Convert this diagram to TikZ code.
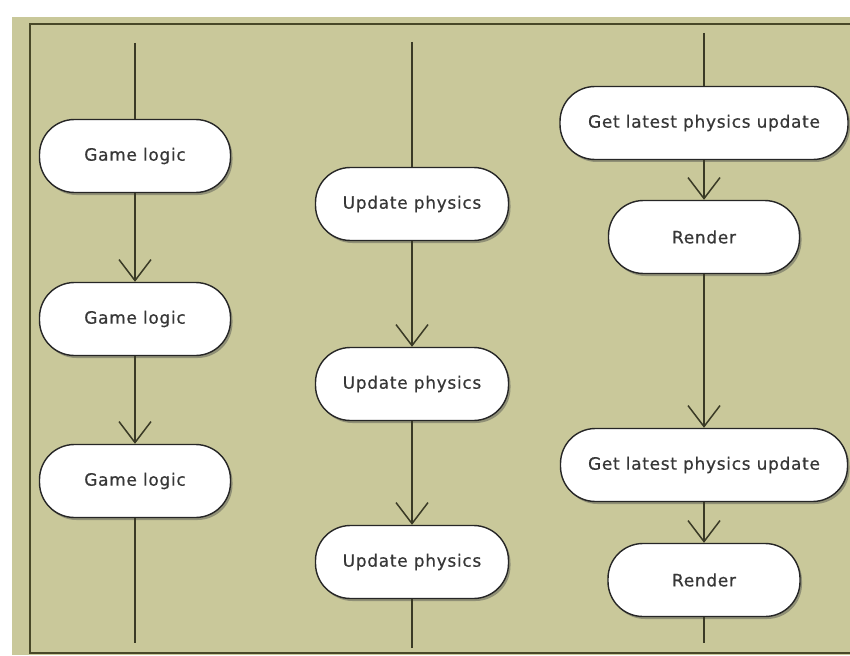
\documentclass[tikz,border=0pt]{standalone}
\usepackage{fontspec}
\setmainfont{DejaVu Sans}
\newfontfamily\lblfont[LetterSpace=4,FakeBold=0.6]{DejaVu Sans}
\usetikzlibrary{arrows.meta,shadows}
\definecolor{khaki}{RGB}{201,200,154}
\definecolor{bordercol}{RGB}{72,72,40}
\definecolor{linecol}{RGB}{58,58,38}
\definecolor{txt}{RGB}{55,55,55}
\tikzset{
  stage/.style={draw=black!85, line width=1.4pt, fill=white, rounded corners=35pt,
    minimum height=73pt, inner sep=0pt,
    drop shadow={shadow xshift=2pt, shadow yshift=-2.5pt, opacity=0.45, fill=black!70},
    font=\lblfont\fontsize{17}{20}\selectfont, text=txt},
  flow/.style={draw=linecol, line width=1.5pt},
  arr/.style={flow, -{Straight Barb[length=21pt,width=32pt,line width=1.5pt]}},
}
\begin{document}
\begin{tikzpicture}[x=1pt,y=-1pt]
\useasboundingbox (0,0) rectangle (850,655);
\fill[khaki] (12,17) rectangle (850,655);
\draw[bordercol, line width=2pt] (850,24) -- (30,24) -- (30,653) -- (850,653);

% column 1
\node[stage, minimum width=191pt] (g1) at (135,156) {Game logic};
\node[stage, minimum width=191pt] (g2) at (135,319) {Game logic};
\node[stage, minimum width=191pt] (g3) at (135,481) {Game logic};
\coordinate (g0) at (135,43);
\coordinate (g4) at (135,643);

% column 2
\node[stage, minimum width=193pt] (u1) at (412,204) {Update physics};
\node[stage, minimum width=193pt] (u2) at (412,384) {Update physics};
\node[stage, minimum width=193pt] (u3) at (412,562) {Update physics};
\coordinate (u0) at (412,42);
\coordinate (u4) at (412,648);

% column 3
\node[stage, minimum width=288pt] (l1) at (704,123) {Get latest physics update};
\node[stage, minimum width=191pt] (r1) at (704,237) {Render};
\node[stage, minimum width=287pt] (l2) at (704,465) {Get latest physics update};
\node[stage, minimum width=192pt] (r2) at (704,580) {Render};
\coordinate (l0) at (704,33);
\coordinate (r3) at (704,643);

\draw[flow] (g0) -- (g1.north);
\draw[arr] (g1.south) -- (g2.north);
\draw[arr] (g2.south) -- (g3.north);
\draw[flow] (g3.south) -- (g4);

\draw[flow] (u0) -- (u1.north);
\draw[arr] (u1.south) -- (u2.north);
\draw[arr] (u2.south) -- (u3.north);
\draw[flow] (u3.south) -- (u4);

\draw[flow] (l0) -- (l1.north);
\draw[arr] (l1.south) -- (r1.north);
\draw[arr] (r1.south) -- (l2.north);
\draw[arr] (l2.south) -- (r2.north);
\draw[flow] (r2.south) -- (r3);
\end{tikzpicture}
\end{document}
